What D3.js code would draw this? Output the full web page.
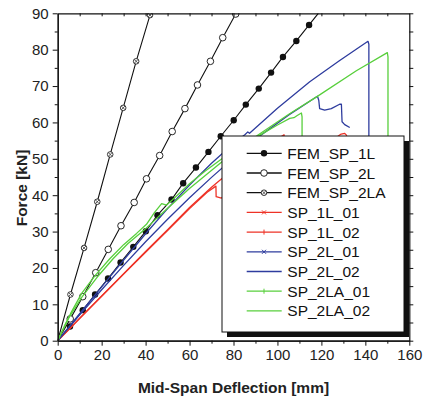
<!DOCTYPE html>
<html>
<head>
<meta charset="utf-8">
<script src="https://cdn.jsdelivr.net/npm/d3@7"></script>
<style>
  body { margin: 0; background: #fff; }
  text { font-family: "Liberation Sans", Arial, sans-serif; }
</style>
</head>
<body>
<div id="chart"></div>
<script>
// FEM curves (x = deflection mm, y = force kN)
var femSP1L_x = [0, 5.6, 11.4, 17, 22.9, 28.6, 34.4, 40.1, 45.4, 51.8, 57.1, 62.9, 68.6, 74.2, 80.1, 85.6, 91.5, 97.1, 102.5, 108.6, 114.4, 118.6];
var femSP1L_y = [0, 3.9, 8.4, 12.7, 17.1, 21.5, 25.8, 30.1, 34.5, 38.8, 43.3, 47.6, 51.9, 56.2, 60.6, 64.9, 69.3, 73.7, 78.0, 82.4, 86.8, 90];
var femSP2L_x = [0, 5.7, 11.4, 17.3, 23, 28.8, 34.8, 40.4, 46.4, 52.1, 57.9, 63.6, 69.5, 75.1, 81];
var femSP2L_y = [0, 6, 12.1, 18.7, 25.1, 31.6, 38, 44.5, 50.9, 57.5, 63.8, 70.3, 76.8, 83.3, 89.8];
var femSP2LA_x = [0, 5.8, 12, 18, 23.9, 29.8, 35.7, 42];
var femSP2LA_y = [0, 12.7, 25.5, 38.2, 51.2, 64.0, 76.8, 89.5];

// test curves
var sp1L01_x = [0, 5, 10, 20, 30, 40, 50, 60, 70, 73.8, 80, 90, 97, 103, 103.5, 104];
var sp1L01_y = [0, 3.1, 6.2, 12.3, 18.4, 24.5, 30.5, 36.6, 42.2, 44.1, 47.1, 51.5, 54.3, 56.6, 54.5, 46];
var sp1L02_x = [0, 5, 10, 20, 30, 40, 50, 60, 68, 72, 72.1, 74.5, 80, 90, 100, 110, 120, 127.5, 129, 130.6, 131.4, 131.7];
var sp1L02_y = [0, 3.0, 6.1, 12.2, 18.3, 24.3, 30.3, 36.3, 40.8, 42.5, 39.6, 39.2, 41.8, 45.8, 49.4, 52.4, 54.6, 56.2, 56.8, 57.0, 56.5, 54];
var sp2L01_x = [0, 10, 20, 30, 40, 50, 60, 70, 80, 92, 105, 118.2, 118.8, 119.2, 121.5, 124.5, 128.3, 129.1, 129.4, 130.6, 132.9];
var sp2L01_y = [0, 7.1, 14.0, 20.7, 27.2, 33.4, 39.3, 44.9, 50.2, 56.3, 62.0, 67.2, 66.1, 63.8, 63.4, 63.8, 65, 65, 60.2, 59.4, 58.6];
var sp2L02_x = [0, 10, 20, 30.6, 40, 50, 60, 70, 80, 85.3, 86.5, 87.3, 100, 114.7, 128, 141.2, 141.6, 141.6];
var sp2L02_y = [0, 7.4, 14.8, 22.6, 29.4, 36.3, 42.8, 48.8, 54.2, 56.7, 57.4, 57.0, 63.9, 71.2, 76.9, 82.3, 81.5, 40];
var sp2LA01_x = [0, 3, 5.9, 10.9, 17, 23.8, 30, 35.9, 40.4, 44, 47.3, 49.5, 52, 60.1, 67, 73.8, 82, 92, 100, 105.6, 107.5, 109, 110.9, 111.2, 111.2];
var sp2LA01_y = [0, 4, 7.5, 13, 17.9, 22.6, 26.4, 29.5, 32, 35.2, 37.7, 37.3, 38.6, 43.2, 46.6, 49.6, 53.1, 56.5, 59.3, 61.1, 61.3, 61.9, 62.6, 61.5, 40];
var sp2LA02_x = [0, 5, 11, 18, 25.3, 32, 39.3, 50, 60.1, 73.8, 82, 91, 105, 118.5, 135.9, 150, 150.3, 150.3];
var sp2LA02_y = [0, 6.2, 12.0, 17.5, 22.6, 26.7, 30.4, 36.4, 41.9, 48.7, 52.6, 56.5, 62.2, 67.3, 74.2, 79.2, 78, 40];

var xTicks = [0, 20, 40, 60, 80, 100, 120, 140, 160];
var yTicks = [0, 10, 20, 30, 40, 50, 60, 70, 80, 90];

var legendNames = ["FEM_SP_1L", "FEM_SP_2L", "FEM_SP_2LA", "SP_1L_01", "SP_1L_02", "SP_2L_01", "SP_2L_02", "SP_2LA_01", "SP_2LA_02"];

function pts(xs, ys) { return xs.map(function(v, i) { return [v, ys[i]]; }); }

var red = "#ee3226", blue = "#2e3c9e", green = "#58cf3c";

var fem = [
  {name: "FEM_SP_1L", data: pts(femSP1L_x, femSP1L_y), marker: "filled"},
  {name: "FEM_SP_2L", data: pts(femSP2L_x, femSP2L_y), marker: "open"},
  {name: "FEM_SP_2LA", data: pts(femSP2LA_x, femSP2LA_y), marker: "cross"}
];
var tests = [
  {name: "SP_1L_01", data: pts(sp1L01_x, sp1L01_y), color: red, marker: "x"},
  {name: "SP_1L_02", data: pts(sp1L02_x, sp1L02_y), color: red, marker: "+"},
  {name: "SP_2L_01", data: pts(sp2L01_x, sp2L01_y), color: blue, marker: "x"},
  {name: "SP_2L_02", data: pts(sp2L02_x, sp2L02_y), color: blue, marker: "-"},
  {name: "SP_2LA_01", data: pts(sp2LA01_x, sp2LA01_y), color: green, marker: "+"},
  {name: "SP_2LA_02", data: pts(sp2LA02_x, sp2LA02_y), color: green, marker: ""}
];

var W = 425, H = 399;
var pLeft = 57.7, pRight = 409.3, pTop = 13.3, pBottom = 340.7;

var x = d3.scaleLinear().domain([0, 160]).range([pLeft, pRight]);
var y = d3.scaleLinear().domain([0, 90]).range([pBottom, pTop]);

var svg = d3.select("#chart").append("svg")
    .attr("width", W)
    .attr("height", H);

svg.append("defs").append("clipPath").attr("id", "plot")
  .append("rect")
    .attr("x", pLeft).attr("y", pTop)
    .attr("width", pRight - pLeft).attr("height", pBottom - pTop);

var line = d3.line()
    .x(function(d) { return x(d[0]); })
    .y(function(d) { return y(d[1]); });

var plot = svg.append("g").attr("clip-path", "url(#plot)");

// FEM lines with markers
fem.forEach(function(s) {
  plot.append("path")
      .attr("d", line(s.data))
      .attr("fill", "none")
      .attr("stroke", "#111")
      .attr("stroke-width", 1.1);
});

function drawMarker(g, type, cx, cy, color) {
  if (type === "filled") {
    g.append("circle").attr("cx", cx).attr("cy", cy).attr("r", 3.2).attr("fill", "#111");
  } else if (type === "open") {
    g.append("circle").attr("cx", cx).attr("cy", cy).attr("r", 3.3)
        .attr("fill", "#fff").attr("stroke", "#111").attr("stroke-width", 0.9);
  } else if (type === "cross") {
    g.append("circle").attr("cx", cx).attr("cy", cy).attr("r", 2.8)
        .attr("fill", "#fff").attr("stroke", "#222").attr("stroke-width", 0.9);
    g.append("path")
        .attr("d", "M" + (cx - 1.9) + "," + (cy - 1.9) + "L" + (cx + 1.9) + "," + (cy + 1.9) +
                   "M" + (cx - 1.9) + "," + (cy + 1.9) + "L" + (cx + 1.9) + "," + (cy - 1.9))
        .attr("stroke", "#333").attr("stroke-width", 0.8);
  } else if (type === "x") {
    g.append("path")
        .attr("d", "M" + (cx - 2) + "," + (cy - 2) + "L" + (cx + 2) + "," + (cy + 2) +
                   "M" + (cx - 2) + "," + (cy + 2) + "L" + (cx + 2) + "," + (cy - 2))
        .attr("stroke", color).attr("stroke-width", 1);
  } else if (type === "+") {
    g.append("path")
        .attr("d", "M" + cx + "," + (cy - 2.5) + "L" + cx + "," + (cy + 2.5))
        .attr("stroke", color).attr("stroke-width", 1);
  }
}

fem.forEach(function(s) {
  s.data.filter(function(d) { return d[0] > 0 && d[1] < 90; }).forEach(function(d) {
    drawMarker(plot, s.marker, x(d[0]), y(d[1]));
  });
});

// test curves
tests.forEach(function(s) {
  plot.append("path")
      .attr("d", line(s.data))
      .attr("fill", "none")
      .attr("stroke", s.color)
      .attr("stroke-width", 1.3)
      .attr("stroke-linejoin", "round");
});

// axes
function styleAxis(g) {
  g.selectAll(".domain").attr("stroke", "#111").attr("stroke-width", 1.2);
  g.selectAll(".tick line").attr("stroke", "#111").attr("stroke-width", 1);
  g.selectAll(".tick text").attr("fill", "#222").style("font-size", "15px");
}

svg.append("g")
    .attr("transform", "translate(0," + pBottom + ")")
    .call(d3.axisBottom(x).tickValues(xTicks).tickSize(5).tickSizeOuter(0).tickPadding(4))
    .call(styleAxis);
svg.append("g")
    .attr("transform", "translate(0," + pBottom + ")")
    .call(d3.axisBottom(x).tickValues(d3.range(10, 160, 20)).tickSize(3).tickSizeOuter(0).tickFormat(""))
    .call(styleAxis);

svg.append("g")
    .attr("transform", "translate(" + pLeft + ",0)")
    .call(d3.axisLeft(y).tickValues(yTicks).tickSize(5).tickSizeOuter(0).tickPadding(4))
    .call(styleAxis);
svg.append("g")
    .attr("transform", "translate(" + pLeft + ",0)")
    .call(d3.axisLeft(y).tickValues(d3.range(5, 90, 10)).tickSize(3).tickSizeOuter(0).tickFormat(""))
    .call(styleAxis);

svg.append("g")
    .attr("transform", "translate(0," + pTop + ")")
    .call(d3.axisTop(x).tickValues(d3.range(10, 160, 10)).tickSize(-3).tickSizeOuter(0).tickFormat(""))
    .call(styleAxis);

svg.append("g")
    .attr("transform", "translate(" + pRight + ",0)")
    .call(d3.axisRight(y).tickValues(d3.range(0, 91, 5)).tickSize(4).tickSizeOuter(0).tickFormat(""))
    .call(styleAxis);

// axis titles
svg.append("text")
    .attr("x", (pLeft + pRight) / 2)
    .attr("y", 393)
    .attr("text-anchor", "middle")
    .style("font-size", "15.5px")
    .style("font-weight", "bold")
    .attr("fill", "#222")
    .text("Mid-Span Deflection [mm]");

svg.append("text")
    .attr("transform", "translate(27,188) rotate(-90)")
    .attr("text-anchor", "middle")
    .style("font-size", "15.5px")
    .style("font-weight", "bold")
    .attr("fill", "#222")
    .text("Force [kN]");

// legend
var lg = svg.append("g");
var lx = 222, ly = 136, lw = 182, lh = 196;
lg.append("rect").attr("x", lx + 5).attr("y", ly + 5).attr("width", lw).attr("height", lh).attr("fill", "#111");
lg.append("rect").attr("x", lx).attr("y", ly).attr("width", lw).attr("height", lh)
    .attr("fill", "#fff").attr("stroke", "#111").attr("stroke-width", 1);

var legendItems = fem.map(function(s) { return {name: s.name, color: "#111", marker: s.marker}; })
    .concat(tests.map(function(s) { return {name: s.name, color: s.color, marker: s.marker}; }));

legendItems.forEach(function(it, i) {
  var ry = 153.3 + i * 19.7;
  lg.append("line")
      .attr("x1", 246.7).attr("x2", 281.7)
      .attr("y1", ry).attr("y2", ry)
      .attr("stroke", it.color).attr("stroke-width", 1.3);
  drawMarker(lg, it.marker, 264, ry, it.color);
  lg.append("text")
      .attr("x", 287.3)
      .attr("y", ry + 5.5)
      .style("font-size", "15.5px")
      .attr("fill", "#111")
      .text(legendNames[i]);
});
</script>
</body>
</html>
